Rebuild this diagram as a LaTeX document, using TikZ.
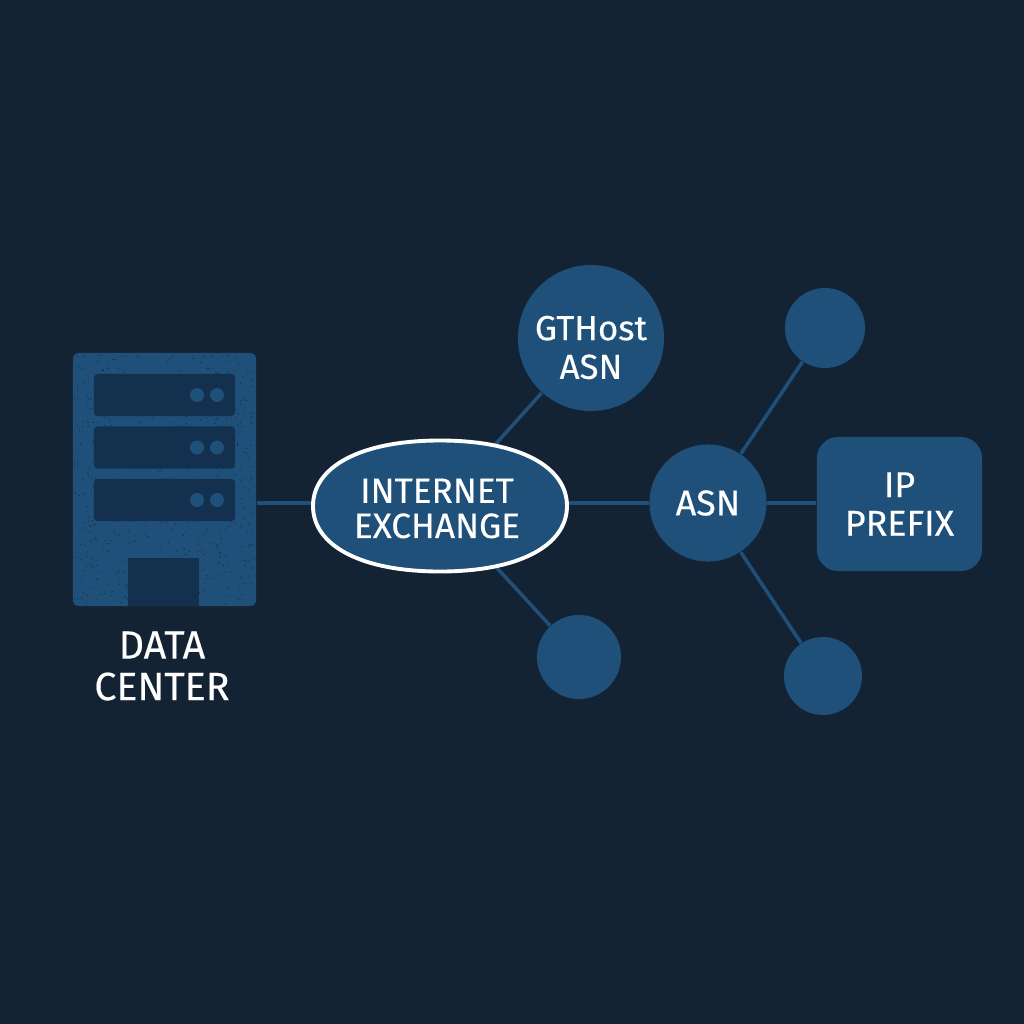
\documentclass[tikz,border=0pt]{standalone}
\usepackage{fontspec}
\setmainfont{Fira Sans}[FakeBold=0.3]
\definecolor{bgdark}{HTML}{142334}
\definecolor{netblue}{HTML}{1F507A}
\definecolor{baydark}{HTML}{13304F}
\tikzset{
    link/.style={draw=netblue, line width=1pt},
    hub/.style={circle, fill=netblue, text=white, align=center},
    bay/.style={rectangle, rounded corners=1pt, fill=baydark, minimum width=1.41cm, minimum height=0.42cm},
    led/.style={circle, fill=netblue, minimum size=0.14cm},
    lbl/.style={text=white, align=center, font=\fontsize{10.2}{11}\selectfont}
}
\begin{document}
\begin{tikzpicture}[x=0.01cm, y=0.01cm]
    \tikzstyle{every node}+=[inner sep=0pt]
    \useasboundingbox (0,0) rectangle (1024,-1024);
    \fill [bgdark] (0,0) rectangle (1024,-1024);
    % data center
    \node [rectangle, rounded corners=1.5pt, fill=netblue, minimum width=1.83cm, minimum height=2.53cm] (server) at (164.5,-479.5) {};
    \pgfmathsetseed{42}
    \foreach \i in {1,...,700}
        \fill [bgdark!85!netblue] ({75+179*rnd},{-355-249*rnd}) circle (0.6);
    \node [bay] (bay1) at (164.5,-395) {};
    \node [bay] (bay2) at (164.5,-447.5) {};
    \node [bay] (bay3) at (164.5,-500) {};
    \foreach \b in {1,2,3} {
        \node [led] (leda\b) at ([xshift=0.325cm]bay\b) {};
        \node [led] (ledb\b) at ([xshift=0.525cm]bay\b) {};
    }
    \node [rectangle, fill=baydark, minimum width=0.71cm, minimum height=0.48cm] (door) at (163.5,-582) {};
    \node [lbl, font=\fontsize{11.2}{11.8}\selectfont] (dclabel) at (162,-666) {DATA\\CENTER};
    % network
    \node [rectangle, minimum width=2.53cm, minimum height=1.3cm] (ix) at (440,-506) {};
    \node [hub, minimum size=1.46cm] (gthost) at (591,-338) {};
    \node [lbl, font=\fontsize{9.9}{11}\selectfont] (gthostlabel) at (591,-347.5) {GTHost\\ASN};
    \node [hub, minimum size=0.84cm] (peer) at (579,-657) {};
    \node [hub, lbl, minimum size=1.17cm] (asn) at (708,-503) {ASN};
    \node [hub, minimum size=0.8cm] (upper) at (825,-328) {};
    \node [hub, minimum size=0.78cm] (lower) at (823,-676) {};
    \node [rectangle, rounded corners=6pt, fill=netblue, lbl, minimum width=1.65cm, minimum height=1.34cm] (prefix) at (899.5,-504) {IP\\PREFIX};
    % links
    \draw [link] (asn -| server.east) -- (asn -| ix.west);
    \draw [link] (asn.west) -- (asn -| ix.east);
    \draw [link] (asn.east) -- (asn -| prefix.west);
    \draw [link] (ix.center) -- (gthost);
    \draw [link] (ix.center) -- (peer);
    \draw [link] (asn) -- (upper);
    \draw [link] (asn) -- (lower);
    % exchange outline, fuller than an ellipse
    \draw [fill=netblue, draw=white, line width=1.1pt, shift={(440,-506)}] (127,0)
        .. controls (127,39) and (80,65.5) .. (0,65.5)
        .. controls (-80,65.5) and (-127,39) .. (-127,0)
        .. controls (-127,-39) and (-80,-65.5) .. (0,-65.5)
        .. controls (80,-65.5) and (127,-39) .. (127,0) -- cycle;
    \node [lbl, font=\fontsize{10}{10}\selectfont] (ixlabel) at (437,-508.5) {INTERNET\\EXCHANGE};
\end{tikzpicture}
\end{document}
